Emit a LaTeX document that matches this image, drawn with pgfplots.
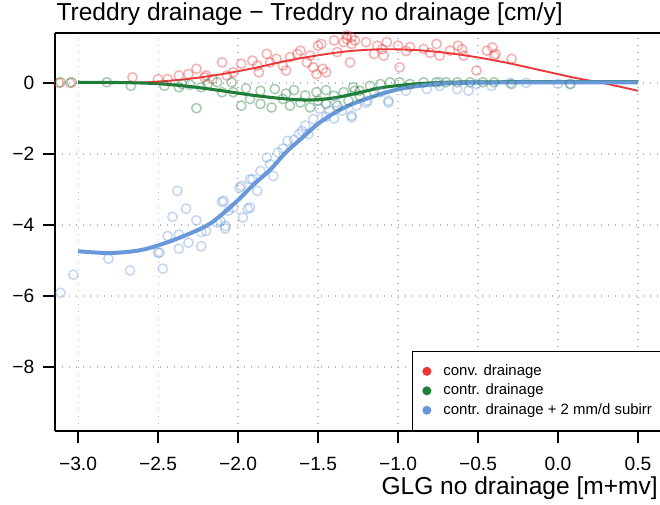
\documentclass[border=0pt]{standalone}
\usepackage{fontspec}
\setmainfont{Liberation Sans}
\usepackage{pgfplots}
\usepackage{pgfplotstable}
\pgfplotsset{compat=1.18}

\definecolor{cred}{RGB}{235,55,55}
\definecolor{cgreen}{RGB}{30,125,55}
\definecolor{cblue}{RGB}{104,152,218}

% scatter: conventional drainage
\pgfplotstableread{
x y
-3.12 0.0
-3.05 0.0
-2.66 0.16
-2.50 0.11
-2.44 0.11
-2.37 0.21
-2.31 0.25
-2.26 0.40
-2.21 0.16
-2.20 0.21
-2.16 0.11
-2.10 0.58
-2.07 0.21
-2.03 0.30
-1.98 0.54
-1.91 0.63
-1.88 0.49
-1.87 0.30
-1.82 0.82
-1.80 0.58
-1.76 0.68
-1.72 0.49
-1.70 0.35
-1.675 0.73
-1.63 0.82
-1.61 0.91
-1.57 0.58
-1.55 0.77
-1.53 0.44
-1.51 0.25
-1.50 1.05
-1.48 1.10
-1.47 0.40
-1.45 0.30
-1.40 1.20
-1.38 0.87
-1.34 1.15
-1.32 1.24
-1.32 1.34
-1.30 0.58
-1.29 1.29
-1.29 1.10
-1.27 1.20
-1.20 1.15
-1.15 0.82
-1.13 1.05
-1.10 0.95
-1.09 0.77
-1.07 1.15
-1.00 1.05
-0.99 0.44
-0.95 0.90
-0.925 1.01
-0.84 0.96
-0.80 0.85
-0.76 1.10
-0.74 0.77
-0.675 0.91
-0.625 1.05
-0.60 0.95
-0.59 0.77
-0.51 0.35
-0.445 0.91
-0.41 1.00
-0.40 0.77
-0.39 0.82
-0.29 0.68
}\convdata

% scatter: controlled drainage
\pgfplotstableread{
x y
-3.11 0.02
-3.04 0.02
-2.82 0.02
-2.67 -0.08
-2.46 -0.08
-2.37 -0.12
-2.35 -0.03
-2.30 -0.05
-2.26 -0.71
-2.23 -0.12
-2.19 -0.03
-2.13 0.02
-2.10 -0.26
-2.04 0.02
-2.03 -0.26
-1.98 -0.64
-1.95 -0.15
-1.925 -0.45
-1.86 -0.22
-1.86 -0.59
-1.79 -0.69
-1.77 -0.17
-1.72 -0.45
-1.70 -0.30
-1.675 -0.64
-1.65 -0.20
-1.61 -0.55
-1.58 -0.35
-1.55 -0.69
-1.51 -0.26
-1.50 -0.50
-1.45 -0.59
-1.45 -0.20
-1.40 -0.36
-1.38 -0.64
-1.34 -0.26
-1.31 -0.50
-1.28 -0.12
-1.27 -0.22
-1.24 -0.36
-1.24 -0.22
-1.175 -0.08
-1.15 -0.26
-1.11 -0.03
-1.05 0.02
-0.99 0.02
-0.925 -0.03
-0.84 0.02
-0.76 0.02
-0.70 0.02
-0.63 0.02
-0.55 0.02
-0.47 0.02
-0.40 0.02
-0.29 -0.03
0.075 -0.03
}\contrdata

% scatter: controlled drainage + subirrigation
\pgfplotstableread{
x y
-3.11 -5.91
-3.03 -5.40
-2.81 -4.95
-2.675 -5.28
-2.50 -4.78
-2.49 -4.78
-2.47 -5.23
-2.44 -4.31
-2.41 -3.77
-2.38 -3.04
-2.37 -4.67
-2.37 -4.27
-2.325 -3.54
-2.31 -4.50
-2.26 -3.87
-2.23 -4.60
-2.23 -4.20
-2.20 -4.17
-2.13 -3.93
-2.11 -3.89
-2.10 -3.35
-2.09 -3.32
-2.08 -4.10
-2.08 -4.03
-2.06 -3.60
-2.03 -3.51
-1.99 -2.95
-1.98 -2.90
-1.97 -3.79
-1.94 -3.54
-1.925 -2.71
-1.925 -3.51
-1.91 -2.71
-1.88 -3.04
-1.86 -2.48
-1.82 -2.10
-1.80 -2.29
-1.78 -2.62
-1.75 -1.96
-1.72 -1.85
-1.69 -1.63
-1.65 -1.60
-1.62 -1.44
-1.60 -1.35
-1.58 -1.20
-1.56 -1.44
-1.53 -1.02
-1.49 -0.73
-1.45 -0.95
-1.43 -0.78
-1.40 -1.00
-1.39 -0.55
-1.35 -0.78
-1.29 -0.92
-1.29 -0.97
-1.26 -0.64
-1.20 -0.55
-1.19 -0.50
-1.11 -0.26
-1.06 -0.55
-1.06 -0.50
-0.95 -0.22
-0.82 -0.17
-0.74 -0.08
-0.74 0.02
-0.63 -0.17
-0.56 -0.22
-0.51 -0.03
-0.415 -0.08
-0.30 0.0
-0.20 0.0
0.00 -0.02
0.08 -0.03
}\subirrdata

\begin{document}
\begin{tikzpicture}
\begin{axis}[
  name=ax, at={(0,0)}, anchor=south west,
  scale only axis, width=453.75pt, height=298.5pt,
  xmin=-3.144, xmax=0.6375, ymin=-9.803, ymax=1.408,
  axis x line*=box, axis y line*=left,
  axis line style={black, line width=0.9pt},
  xtick={-3,-2.5,-2,-1.5,-1,-0.5,0,0.5},
  xticklabels={−3.0,−2.5,−2.0,−1.5,−1.0,−0.5,0.0,0.5},
  ytick={-8,-6,-4,-2,0},
  yticklabels={−8,−6,−4,−2,0},
  xtick pos=bottom, ytick pos=left,
  tick align=outside, major tick length=9pt,
  tick style={black, line width=0.9pt},
  ticklabel style={font=\fontsize{14.4}{16}\selectfont},
  xticklabel style={yshift=-7pt},
  yticklabel style={xshift=-3pt},
  grid=major,
  grid style={gray!55, line width=0.8pt, dash pattern=on 0.75pt off 4.5pt},
  title={\fontsize{18.4}{21}\selectfont Treddry drainage − Treddry no drainage [cm/y]},
  title style={at={(0,1)}, anchor=base west, yshift=3pt, xshift=1pt,
    inner sep=0pt},
  xlabel={\fontsize{18.4}{21}\selectfont GLG no drainage [m+mv]},
  xlabel style={at={(1,0)}, anchor=base east, yshift=-48pt, xshift=-1.5pt,
    inner sep=0pt},
  legend image code/.code={\fill[#1] (0pt,0pt) circle (2.9pt);},
  legend cell align=left,
  legend style={at={(1,0)}, anchor=south east, xshift=2pt,
    draw=black, line width=0.9pt, fill=white,
    font=\fontsize{11.2}{13}\selectfont,
    inner xsep=7.6pt, inner ysep=9.8pt, row sep=4pt,
    nodes={inner sep=0pt, text height=8.2pt, text depth=2.4pt},
    /tikz/every odd column/.append style={column sep=9.1pt}},
]
\addplot[forget plot, only marks, mark=o, mark size=3.5pt, cred,
  mark options={line width=1.1pt, opacity=0.4}] table[x=x, y=y] {\convdata};
\addplot[forget plot, only marks, mark=o, mark size=3.5pt, cgreen,
  mark options={line width=1.1pt, opacity=0.4}] table[x=x, y=y] {\contrdata};
\addplot[forget plot, only marks, mark=o, mark size=3.5pt, cblue,
  mark options={line width=1.1pt, opacity=0.4}] table[x=x, y=y] {\subirrdata};

% smoothed curves
\addplot[forget plot, cred, line width=1.4pt, smooth] coordinates {
(-3.0,0.0) (-2.7,0.0) (-2.5,0.04) (-2.3,0.12) (-2.1,0.25) (-1.9,0.42)
(-1.7,0.62) (-1.5,0.78) (-1.3,0.9) (-1.1,0.95) (-0.9,0.93) (-0.7,0.85)
(-0.5,0.72) (-0.3,0.55) (-0.1,0.35) (0.1,0.15) (0.3,-0.02) (0.5,-0.22)};
\addplot[forget plot, cgreen, line width=2.3pt, smooth] coordinates {
(-3.0,0.02) (-2.7,0.01) (-2.5,-0.02) (-2.3,-0.1) (-2.1,-0.22) (-1.9,-0.35)
(-1.7,-0.45) (-1.55,-0.48) (-1.4,-0.42) (-1.25,-0.28) (-1.1,-0.13)
(-0.9,-0.03) (-0.7,0.02) (-0.5,0.03) (0.0,0.04) (0.5,0.04)};
\addplot[forget plot, cblue, line width=3pt, smooth] coordinates {
(-3.0,-4.74) (-2.8,-4.79) (-2.6,-4.7) (-2.4,-4.42) (-2.2,-4.03) (-2.1,-3.7)
(-2.0,-3.3) (-1.9,-2.85) (-1.8,-2.45) (-1.7,-1.95) (-1.6,-1.55) (-1.5,-1.15)
(-1.4,-0.85) (-1.3,-0.62) (-1.2,-0.45) (-1.1,-0.3) (-1.0,-0.18) (-0.9,-0.1)
(-0.8,-0.05) (-0.7,-0.01) (-0.5,0.01) (0.0,0.02) (0.5,0.02)};

\addlegendimage{cred}
\addlegendentry{conv. drainage}
\addlegendimage{cgreen}
\addlegendentry{contr. drainage}
\addlegendimage{cblue}
\addlegendentry{contr. drainage + 2 mm/d subirr}
\end{axis}
\pgfresetboundingbox
\useasboundingbox (-41.25pt,-55.5pt) rectangle (453.75pt,323.25pt);
\end{tikzpicture}
\end{document}
